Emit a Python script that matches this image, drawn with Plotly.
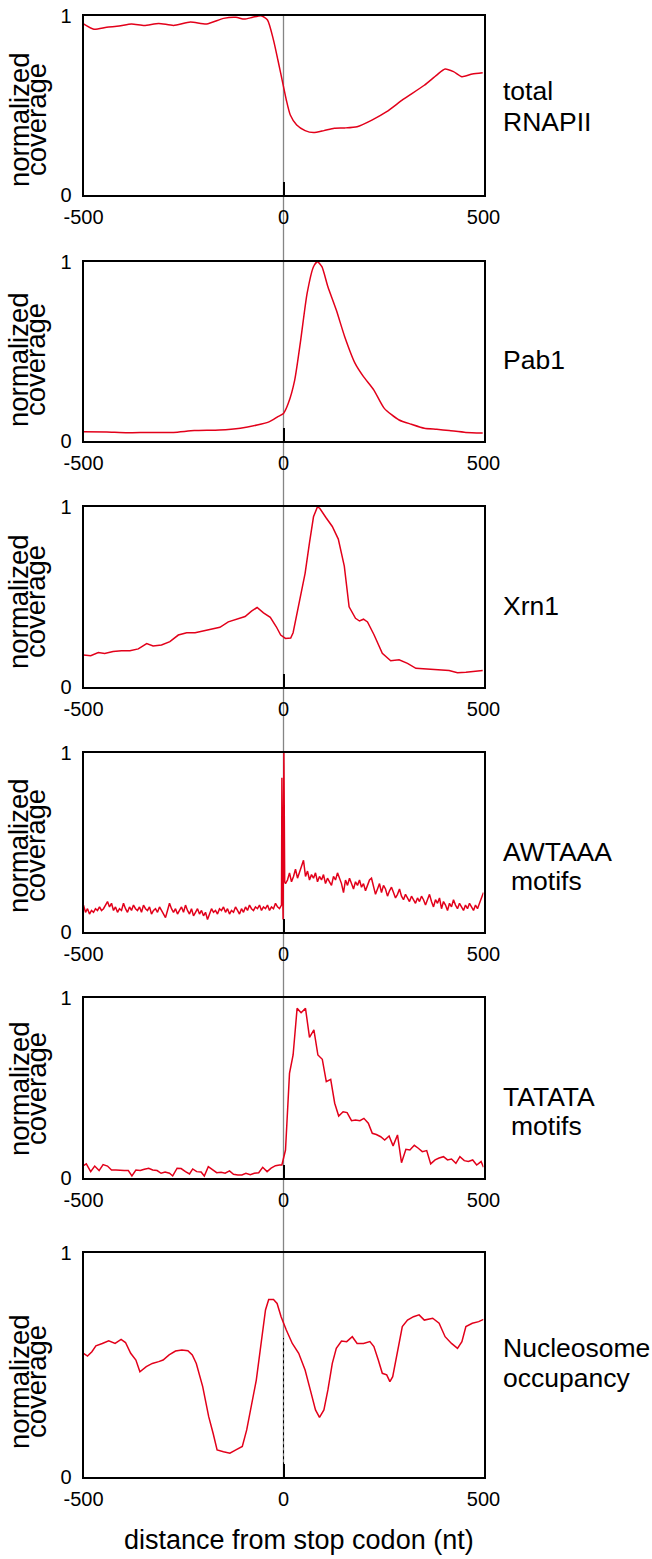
import plotly.graph_objects as go

# ---------------- data ----------------
tick_x = [-500, 0, 500]
tick_x_text = ["-500", "0", "500"]
tick_y = [0, 1]
tick_y_text = ["0", "1"]

panel_labels = [["total", "RNAPII"], ["Pab1"], ["Xrn1"],
                ["AWTAAA", " motifs"], ["TATATA", " motifs"],
                ["Nucleosome", "occupancy"]]
y_title_lines = ["normalized", "coverage"]
x_title = "distance from stop codon (nt)"

# total RNAPII
x1 = [-500, -474, -442, -411, -380, -348, -312, -275, -233, -192, -150, -119, -98, -77, -56,
      -40, -25, -14, 0, 7, 17, 33, 54, 75, 101, 127, 153, 184, 221, 258, 299, 352, 383, 404,
      425, 446, 472, 498]
y1 = [0.954, 0.924, 0.935, 0.942, 0.954, 0.946, 0.957, 0.946, 0.965, 0.954, 0.985, 0.991,
      0.981, 0.991, 1.0, 0.976, 0.864, 0.753, 0.604, 0.53, 0.446, 0.39, 0.359, 0.348, 0.359,
      0.372, 0.374, 0.381, 0.418, 0.465, 0.533, 0.612, 0.669, 0.703, 0.688, 0.66, 0.675, 0.682]

# Pab1
x2 = [-500, -442, -390, -338, -275, -223, -160, -108, -66, -35, -14, 0, 12, 28, 43, 59, 75, 85,
      96, 111, 132, 153, 179, 200, 226, 252, 289, 320, 352, 383, 414, 456, 498]
y2 = [0.052, 0.05, 0.046, 0.048, 0.048, 0.058, 0.061, 0.071, 0.089, 0.108, 0.136, 0.154, 0.21,
      0.34, 0.563, 0.823, 0.972, 1.0, 0.972, 0.86, 0.73, 0.582, 0.433, 0.359, 0.284, 0.182,
      0.117, 0.093, 0.071, 0.065, 0.058, 0.048, 0.045]

# Xrn1
x3 = [-500, -482, -463, -447, -426, -405, -384, -363, -342, -326, -305, -284, -263, -242, -221,
      -200, -180, -159, -138, -117, -96, -80, -66, -50, -33, -18, -7, 5, 18, 24, 34, 45, 54, 65,
      75, 85, 91, 106, 122, 137, 152, 164, 180, 190, 200, 210, 226, 247, 268, 289, 310, 331,
      352, 383, 414, 435, 456, 498]
y3 = [0.176, 0.172, 0.19, 0.185, 0.195, 0.2, 0.2, 0.21, 0.24, 0.226, 0.232, 0.25, 0.287, 0.3,
      0.3, 0.31, 0.316, 0.33, 0.36, 0.375, 0.39, 0.42, 0.44, 0.41, 0.385, 0.333, 0.287, 0.268,
      0.27, 0.3, 0.407, 0.53, 0.63, 0.8, 0.944, 1.0, 0.99, 0.94, 0.89, 0.82, 0.67, 0.444, 0.38,
      0.365, 0.375, 0.36, 0.29, 0.185, 0.144, 0.15, 0.13, 0.102, 0.1, 0.095, 0.09, 0.078, 0.08,
      0.09]

# AWTAAA motifs (upstream every 5 nt, spike near 0, downstream every 5 nt)
x4_up = list(range(-500, 0, 5))
y4_up = [0.15, 0.11, 0.13, 0.10, 0.12, 0.11, 0.13, 0.12, 0.14, 0.12,
         0.13, 0.15, 0.17, 0.14, 0.16, 0.12, 0.14, 0.11, 0.13, 0.12,
         0.16, 0.13, 0.11, 0.14, 0.12, 0.15, 0.13, 0.12, 0.14, 0.11,
         0.15, 0.13, 0.12, 0.14, 0.10, 0.12, 0.13, 0.11, 0.14, 0.12,
         0.10, 0.08, 0.12, 0.16, 0.13, 0.11, 0.13, 0.10, 0.12, 0.14,
         0.11, 0.15, 0.12, 0.10, 0.13, 0.09, 0.11, 0.13, 0.10, 0.12,
         0.09, 0.11, 0.07, 0.10, 0.13, 0.11, 0.12, 0.10, 0.13, 0.12,
         0.14, 0.11, 0.13, 0.10, 0.12, 0.11, 0.14, 0.12, 0.10, 0.13,
         0.11, 0.14, 0.12, 0.15, 0.13, 0.12, 0.14, 0.13, 0.15, 0.12,
         0.14, 0.13, 0.15, 0.12, 0.14, 0.13, 0.16, 0.14, 0.13, 0.15]
x4_mid = [-4, -2, -1, 1, 3]
y4_mid = [0.86, 0.25, 0.07, 1.0, 0.28]
x4_dn = list(range(5, 501, 5))
y4_dn = [0.27, 0.29, 0.33, 0.28, 0.31, 0.35, 0.30, 0.33, 0.36, 0.40,
         0.31, 0.34, 0.29, 0.32, 0.30, 0.33, 0.28, 0.31, 0.29, 0.32,
         0.27, 0.30, 0.28, 0.26, 0.31, 0.29, 0.33, 0.30, 0.27, 0.22,
         0.29, 0.26, 0.30, 0.27, 0.24, 0.28, 0.26, 0.29, 0.25, 0.27,
         0.23, 0.26, 0.29, 0.30, 0.25, 0.21, 0.24, 0.27, 0.22, 0.26,
         0.24, 0.20, 0.23, 0.25, 0.22, 0.19, 0.21, 0.24, 0.20, 0.18,
         0.21, 0.19, 0.17, 0.20, 0.18, 0.16, 0.19, 0.17, 0.20, 0.18,
         0.15, 0.18, 0.21, 0.17, 0.14, 0.18, 0.16, 0.19, 0.13, 0.17,
         0.15, 0.12, 0.16, 0.14, 0.18, 0.15, 0.13, 0.16, 0.14, 0.12,
         0.15, 0.13, 0.16, 0.14, 0.12, 0.15, 0.13, 0.16, 0.19, 0.22]
x4 = x4_up + x4_mid + x4_dn
y4 = y4_up + y4_mid + y4_dn

# TATATA motifs
x5 = [-500, -493, -482, -472, -461, -451, -440, -430, -419, -409, -398, -388, -379, -369, -358,
      -348, -337, -327, -316, -306, -296, -285, -277, -266, -256, -245, -235, -227, -217, -206,
      -198, -188, -177, -167, -156, -146, -135, -125, -114, -104, -94, -83, -73, -62, -52, -41,
      -31, -20, -10, -4, 5, 15, 24, 34, 44, 55, 65, 76, 86, 97, 107, 118, 128, 138, 149, 159,
      170, 180, 191, 201, 212, 222, 232, 243, 253, 264, 274, 285, 295, 306, 316, 327, 337, 347,
      358, 368, 379, 389, 400, 410, 420, 431, 441, 452, 462, 473, 483, 494, 500]
y5 = [0.07, 0.08, 0.037, 0.068, 0.043, 0.076, 0.068, 0.046, 0.046, 0.043, 0.043, 0.043, 0.013,
      0.046, 0.043, 0.05, 0.056, 0.046, 0.043, 0.028, 0.035, 0.028, 0.013, 0.056, 0.054, 0.037,
      0.024, 0.052, 0.037, 0.035, 0.013, 0.065, 0.046, 0.031, 0.033, 0.028, 0.041, 0.022, 0.019,
      0.019, 0.028, 0.02, 0.028, 0.031, 0.061, 0.037, 0.056, 0.07, 0.074, 0.074,
      0.157, 0.583, 0.685, 0.944, 0.92, 0.944, 0.783, 0.824, 0.685, 0.661, 0.537, 0.55, 0.417,
      0.346, 0.37, 0.365, 0.32, 0.324, 0.32, 0.333, 0.306, 0.25, 0.243, 0.231, 0.213, 0.235,
      0.18, 0.241, 0.087, 0.161, 0.157, 0.183, 0.167, 0.148, 0.154, 0.08, 0.102, 0.113, 0.12,
      0.102, 0.107, 0.083, 0.12, 0.098, 0.094, 0.102, 0.074, 0.093, 0.061]

# Nucleosome occupancy
x6 = [-500, -490, -479, -469, -453, -437, -421, -406, -395, -382, -369, -359, -343, -328, -312,
      -301, -286, -270, -254, -239, -228, -218, -202, -187, -176, -166, -150, -134, -119, -103,
      -92, -82, -68, -56, -45, -37, -25, -16, -6, 7, 22, 38, 54, 67, 80, 90, 101, 111, 122, 132,
      145, 158, 172, 184, 200, 216, 226, 237, 247, 258, 266, 273, 284, 297, 310, 325, 339, 352,
      373, 389, 404, 420, 435, 446, 456, 472, 488, 500]
y6 = [0.552, 0.54, 0.559, 0.585, 0.596, 0.608, 0.596, 0.614, 0.6, 0.552, 0.522, 0.47, 0.493,
      0.507, 0.515, 0.522, 0.545, 0.562, 0.567, 0.564, 0.545, 0.507, 0.404, 0.27, 0.196, 0.122,
      0.114, 0.107, 0.122, 0.137, 0.211, 0.3, 0.433, 0.596, 0.745, 0.792, 0.792, 0.774, 0.715,
      0.656, 0.596, 0.552, 0.478, 0.389, 0.3, 0.267, 0.3, 0.389, 0.507, 0.574, 0.607, 0.604,
      0.626, 0.596, 0.596, 0.604, 0.582, 0.522, 0.463, 0.456, 0.426, 0.448, 0.552, 0.671, 0.7,
      0.715, 0.723, 0.7, 0.708, 0.686, 0.626, 0.596, 0.574, 0.604, 0.671, 0.686, 0.693, 0.703]

series = [(x1, y1, "spline"), (x2, y2, "spline"), (x3, y3, "linear"),
          (x4, y4, "linear"), (x5, y5, "linear"), (x6, y6, "linear")]

# ---------------- layout constants (pixels) ----------------
W, H = 652, 1559
X_LEFT, X_RIGHT = 83.5, 483.5
PANEL_PX = [(15.7, 195.0), (261.7, 441.0), (506.7, 686.7),
            (752.7, 932.0), (998.3, 1178.3), (1252.7, 1477.3)]
YTITLE_CENTER = [120, 360, 602, 846, 1089, 1382]
LABEL_CENTERS = [[91, 122], [360], [606], [852, 881], [1097, 1126], [1348, 1378]]
FONT = "Liberation Sans, Arial, Helvetica, sans-serif"
RED = "#e2001a"


def px(x):
    return x / W


def py(y):
    return 1 - y / H


fig = go.Figure()
annotations = []
layout = dict(width=W, height=H,
              margin=dict(l=0, r=0, t=0, b=0, pad=0, autoexpand=False),
              paper_bgcolor="white", plot_bgcolor="rgba(0,0,0,0)",
              showlegend=False, font=dict(family=FONT, color="black"))

for i, (xs, ys, shape) in enumerate(series, start=1):
    fig.add_trace(go.Scatter(x=xs, y=ys, mode="lines",
                             line=dict(color=RED, width=1.5, shape=shape, smoothing=0.6),
                             xaxis=f"x{i}", yaxis=f"y{i}", hoverinfo="skip"))
    top, bot = PANEL_PX[i - 1]
    common = dict(showline=True, linewidth=2, linecolor="black", mirror=True,
                  showgrid=False, zeroline=False, ticks="inside", ticklen=13,
                  tickwidth=2, tickcolor="black", automargin=False,
                  tickfont=dict(family=FONT, size=20, color="black"))
    layout[f"xaxis{i}"] = dict(domain=[px(X_LEFT), px(X_RIGHT)], anchor=f"y{i}",
                               range=[-500, 500], tickmode="array", tickvals=tick_x,
                               ticktext=tick_x_text, ticklabelstandoff=3, **common)
    layout[f"yaxis{i}"] = dict(domain=[py(bot), py(top)], anchor=f"x{i}",
                               range=[0, 1], tickmode="array", tickvals=tick_y,
                               ticktext=tick_y_text, ticklabelstandoff=6, **common)
    # y titles
    for txt, cx in zip(y_title_lines, [19, 36]):
        annotations.append(dict(text=txt, x=px(cx), y=py(YTITLE_CENTER[i - 1]),
                                xref="paper", yref="paper", showarrow=False,
                                textangle=-90, xanchor="center", yanchor="middle",
                                font=dict(family=FONT, size=27.5, color="black")))
    # right-side labels
    for txt, cy in zip(panel_labels[i - 1], LABEL_CENTERS[i - 1]):
        indent = 8 if txt.startswith(" ") else 0
        annotations.append(dict(text=txt.strip(), x=px(501 + indent), y=py(cy),
                                xref="paper", yref="paper", showarrow=False,
                                xanchor="left", yanchor="middle",
                                font=dict(family=FONT, size=26.5, color="black")))

annotations.append(dict(text=x_title, x=px(299), y=py(1540), xref="paper", yref="paper",
                        showarrow=False, xanchor="center", yanchor="middle",
                        font=dict(family=FONT, size=27, color="black")))
layout["annotations"] = annotations

layout["shapes"] = [
    dict(type="line", xref="x", yref="paper", x0=0, x1=0,
         y0=py(PANEL_PX[-1][1]), y1=py(PANEL_PX[0][0]),
         line=dict(color="#858585", width=1.3), layer="below"),
    dict(type="line", xref="x6", yref="y6", x0=0, x1=0, y0=0, y1=0.62,
         line=dict(color="black", width=1, dash="dot"), layer="above"),
]

fig.update_layout(**layout)
fig.write_html("out.html",
               config={"displayModeBar": False, "staticPlot": True},
               post_script="document.body.style.margin='0';"
                           "document.body.style.overflow='hidden';")
